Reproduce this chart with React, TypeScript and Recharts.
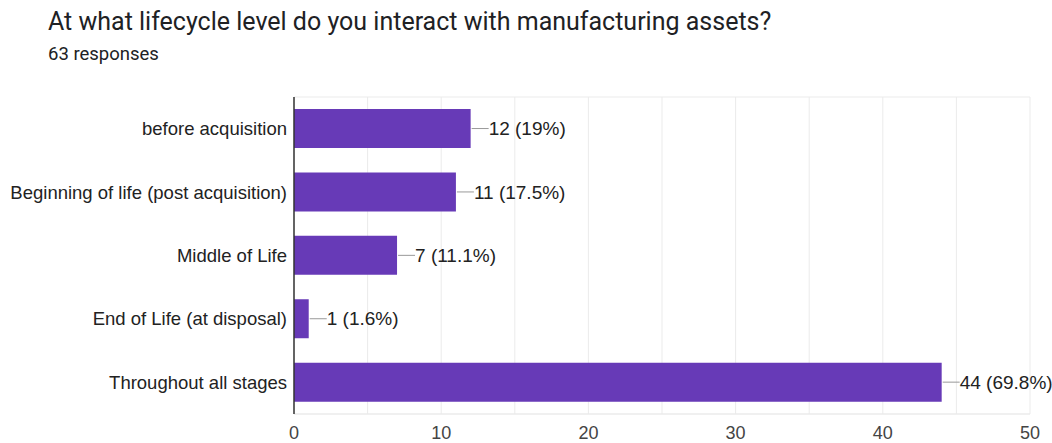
import React from "react";
import {
  BarChart,
  Bar,
  XAxis,
  YAxis,
  CartesianGrid,
  LabelList,
} from "recharts";

const stages = [
  "before acquisition",
  "Beginning of life (post acquisition)",
  "Middle of Life",
  "End of Life (at disposal)",
  "Throughout all stages",
];
const counts = [12, 11, 7, 1, 44];
const percents = ["19%", "17.5%", "11.1%", "1.6%", "69.8%"];
const xTicks = [0, 5, 10, 15, 20, 25, 30, 35, 40, 45, 50];

const data = stages.map((name, i) => ({
  name,
  count: counts[i],
  pct: percents[i],
}));

const font = "Arial, 'Liberation Sans', Helvetica, sans-serif";

const BarLabel = (props: any) => {
  const { x, y, width, height, index } = props;
  const endX = x + width;
  const midY = y + height / 2;
  const d = data[index];
  return (
    <g>
      <line x1={endX + 1} y1={midY} x2={endX + 18} y2={midY} stroke="#999" strokeWidth={1} />
      <text
        x={endX + 18}
        y={midY}
        dy="0.35em"
        fontSize={19}
        fontFamily={font}
        fill="#222"
      >
        {`${d.count} (${d.pct})`}
      </text>
    </g>
  );
};

const App = () => {
  return (
    <div style={{ position: "absolute", left: 0, top: 0, width: 1052, height: 443, background: "#fff" }}>
      <div
        style={{
          position: "absolute",
          left: 48,
          top: 7,
          fontFamily: "Roboto, sans-serif",
          fontSize: 25,
          color: "#202124",
          whiteSpace: "nowrap",
        }}
      >
        At what lifecycle level do you interact with manufacturing assets?
      </div>
      <div
        style={{
          position: "absolute",
          left: 48,
          top: 43,
          fontFamily: "Roboto, sans-serif",
          fontSize: 18.5,
          color: "#202124",
          whiteSpace: "nowrap",
        }}
      >
        63 responses
      </div>
      <BarChart
        width={1052}
        height={443}
        data={data}
        layout="vertical"
        margin={{ top: 97, right: 22, bottom: 0, left: 0 }}
        barCategoryGap="19%"
      >
        <CartesianGrid
          stroke="#ebebeb"
          horizontalCoordinatesGenerator={({ offset }: any) => [offset.top, offset.top + offset.height]}
        />
        <XAxis
          type="number"
          domain={[0, 50]}
          ticks={xTicks}
          interval={0}
          tickLine={false}
          axisLine={{ stroke: "#ebebeb" }}
          height={29}
          tick={{ fontSize: 18, fontFamily: font, fill: "#444" }}
          tickFormatter={(v: number) => (v % 10 === 0 ? String(v) : "")}
          dy={4}
        />
        <YAxis
          type="category"
          dataKey="name"
          width={294}
          tickLine={false}
          axisLine={{ stroke: "#333", strokeWidth: 1.5 }}
          tick={{ fontSize: 18.5, fontFamily: font, fill: "#222" }}
          tickMargin={1}
        />
        <Bar dataKey="count" fill="#673ab7" isAnimationActive={false}>
          <LabelList dataKey="count" content={BarLabel} />
        </Bar>
      </BarChart>
    </div>
  );
};

export default App;
